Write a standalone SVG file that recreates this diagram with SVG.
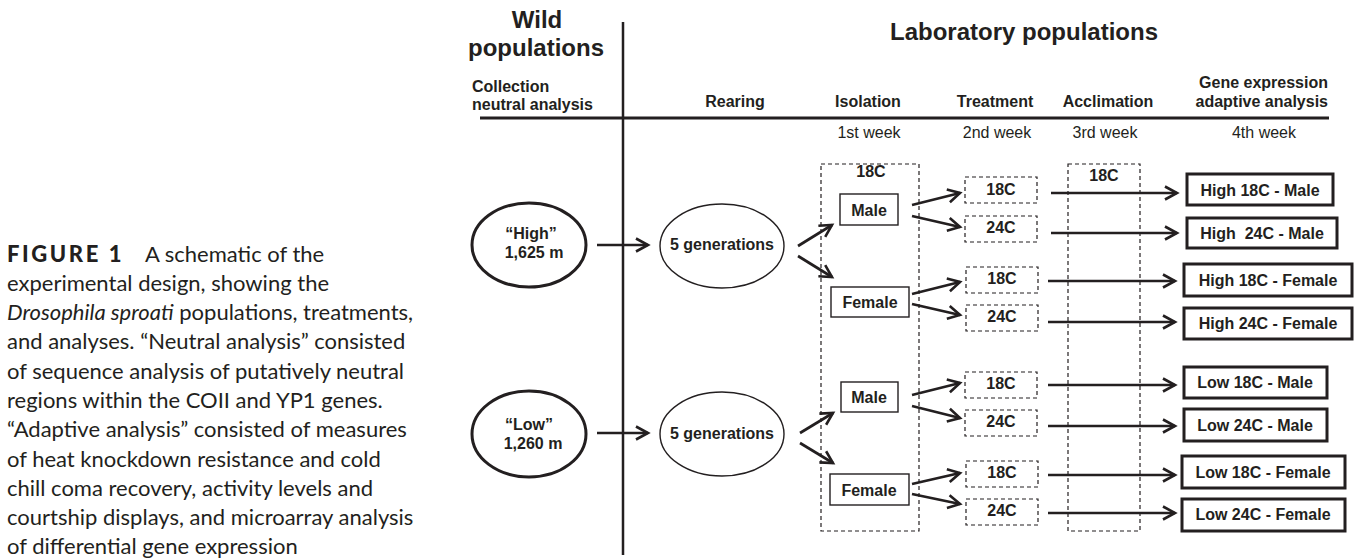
<svg xmlns="http://www.w3.org/2000/svg" width="1355" height="559" viewBox="0 0 1355 559">
<style>
text{font-family:"Liberation Sans",Arial,sans-serif;fill:#231f20}
.b{font-weight:bold;font-size:16px}
.h{font-weight:bold;font-size:24px}
.w{font-size:16px}
.m{text-anchor:middle}
.cap{font-family:Lato,"Noto Sans",sans-serif;font-size:22px;fill:#231f20}
.fig{font-family:Lato,"Noto Sans",sans-serif;font-size:22px;font-weight:900;letter-spacing:2.6px}
.rule{stroke:#231f20;fill:none}
.dash{fill:none;stroke:#231f20;stroke-width:1.2;stroke-dasharray:4 3}
.thin{fill:#fff;stroke:#231f20;stroke-width:1.4}
.thick{fill:#fff;stroke:#231f20;stroke-width:3}
.c{stroke:#231f20;stroke-width:2.7;fill:none;marker-end:url(#ah)}
.pre{white-space:pre}
</style>
<defs>
<marker id="ah" markerUnits="userSpaceOnUse" markerWidth="16" markerHeight="16" refX="12" refY="6.5" orient="auto" overflow="visible">
<path d="M0,0 L12,6.5 L0,13" fill="none" stroke="#231f20" stroke-width="2.6"/>
</marker>
</defs>

<g id="caption">
<text x="7" y="262"><tspan class="fig">FIGURE 1</tspan></text>
<text class="cap" x="145" y="262">A schematic of the</text>
<text class="cap" x="7" y="291">experimental design, showing the</text>
<text class="cap" x="7" y="320"><tspan font-style="italic">Drosophila sproati</tspan> populations, treatments,</text>
<text class="cap" x="7" y="349">and analyses. “Neutral analysis” consisted</text>
<text class="cap" x="7" y="379">of sequence analysis of putatively neutral</text>
<text class="cap" x="7" y="408">regions within the COII and YP1 genes.</text>
<text class="cap" x="7" y="437">“Adaptive analysis” consisted of measures</text>
<text class="cap" x="7" y="467">of heat knockdown resistance and cold</text>
<text class="cap" x="7" y="496">chill coma recovery, activity levels and</text>
<text class="cap" x="7" y="525">courtship displays, and microarray analysis</text>
<text class="cap" x="7" y="554">of differential gene expression</text>
</g>

<g id="header">
<text class="h m" x="537" y="28">Wild</text>
<text class="h m" x="536" y="56">populations</text>
<text class="h m" x="1024" y="40">Laboratory populations</text>
<text class="b" x="472" y="92">Collection</text>
<text class="b" x="472" y="110">neutral analysis</text>
<text class="b m" x="735" y="107">Rearing</text>
<text class="b m" x="868" y="107">Isolation</text>
<text class="b m" x="995" y="107">Treatment</text>
<text class="b m" x="1108" y="107">Acclimation</text>
<text class="b" x="1328" y="88" text-anchor="end">Gene expression</text>
<text class="b" x="1328" y="107" text-anchor="end">adaptive analysis</text>
<text class="w m" x="869" y="138">1st week</text>
<text class="w m" x="997" y="138">2nd week</text>
<text class="w m" x="1105" y="138">3rd week</text>
<text class="w m" x="1264" y="138">4th week</text>
<line class="rule" x1="480" y1="118" x2="1329" y2="118" stroke-width="3"/>
<line class="rule" x1="623" y1="22" x2="623" y2="555" stroke-width="2.5"/>
</g>

<g id="isolation-box"><rect class="dash" x="821" y="164" width="98" height="367"/><text class="b m" x="871" y="177">18C</text></g>
<g id="acclimation-box"><rect class="dash" x="1068" y="164" width="72" height="367"/><text class="b m" x="1104" y="181">18C</text></g>

<g id="wild-high"><ellipse class="thick" cx="529" cy="245" rx="57" ry="42"/><text class="b m" x="531" y="239">“High”</text><text class="b m" x="534" y="258">1,625 m</text></g>
<g id="wild-low"><ellipse class="thick" cx="529" cy="434" rx="57" ry="43"/><text class="b m" x="529" y="430">“Low”</text><text class="b m" x="533" y="449">1,260 m</text></g>
<g id="rear-high"><ellipse class="thin" cx="722" cy="246" rx="62" ry="42"/><text class="b m" x="722" y="250">5 generations</text></g>
<g id="rear-low"><ellipse class="thin" cx="722" cy="434" rx="62" ry="42"/><text class="b m" x="722" y="439">5 generations</text></g>

<g id="iso-high-male"><rect class="thin" x="840" y="194" width="58" height="31"/><text class="b m" x="869" y="216">Male</text></g>
<g id="iso-high-female"><rect class="thin" x="831" y="287" width="78" height="30"/><text class="b m" x="870" y="308">Female</text></g>
<g id="iso-low-male"><rect class="thin" x="841" y="382" width="57" height="30"/><text class="b m" x="869" y="403">Male</text></g>
<g id="iso-low-female"><rect class="thin" x="830" y="474" width="79" height="31"/><text class="b m" x="869" y="496">Female</text></g>

<g id="tr-hm18"><rect class="dash" x="965" y="177" width="72" height="26"/><text class="b m" x="1001" y="195">18C</text></g>
<g id="tr-hm24"><rect class="dash" x="965" y="216" width="72" height="26"/><text class="b m" x="1001" y="233">24C</text></g>
<g id="tr-hf18"><rect class="dash" x="966" y="267" width="72" height="26"/><text class="b m" x="1002" y="284">18C</text></g>
<g id="tr-hf24"><rect class="dash" x="966" y="305" width="72" height="26"/><text class="b m" x="1002" y="322">24C</text></g>
<g id="tr-lm18"><rect class="dash" x="965" y="372" width="72" height="26"/><text class="b m" x="1001" y="389">18C</text></g>
<g id="tr-lm24"><rect class="dash" x="965" y="410" width="72" height="26"/><text class="b m" x="1001" y="427">24C</text></g>
<g id="tr-lf18"><rect class="dash" x="966" y="461" width="72" height="26"/><text class="b m" x="1002" y="478">18C</text></g>
<g id="tr-lf24"><rect class="dash" x="966" y="499" width="72" height="26"/><text class="b m" x="1002" y="516">24C</text></g>

<g id="res-hm18"><rect class="thick" x="1187" y="174" width="146" height="31"/><text class="b m" x="1260" y="196">High 18C - Male</text></g>
<g id="res-hm24"><rect class="thick" x="1187" y="218" width="150" height="30"/><text class="b m pre" x="1262" y="239">High  24C - Male</text></g>
<g id="res-hf18"><rect class="thick" x="1184" y="264" width="168" height="32"/><text class="b m" x="1268" y="286">High 18C - Female</text></g>
<g id="res-hf24"><rect class="thick" x="1184" y="308" width="168" height="31"/><text class="b m" x="1268" y="329">High 24C - Female</text></g>
<g id="res-lm18"><rect class="thick" x="1184" y="367" width="143" height="31"/><text class="b m" x="1255" y="388">Low 18C - Male</text></g>
<g id="res-lm24"><rect class="thick" x="1184" y="409" width="143" height="32"/><text class="b m" x="1255" y="431">Low 24C - Male</text></g>
<g id="res-lf18"><rect class="thick" x="1182" y="456" width="163" height="32"/><text class="b m" x="1263" y="478">Low 18C - Female</text></g>
<g id="res-lf24"><rect class="thick" x="1182" y="499" width="163" height="32"/><text class="b m" x="1263" y="520">Low 24C - Female</text></g>

<g id="connectors">
<line class="c" x1="597" y1="245" x2="648" y2="245"/>
<line class="c" x1="597" y1="433" x2="648" y2="433"/>
<line class="c" x1="798" y1="246" x2="832" y2="225"/>
<line class="c" x1="798" y1="256" x2="832" y2="277"/>
<line class="c" x1="800" y1="433" x2="833" y2="413"/>
<line class="c" x1="800" y1="443" x2="833" y2="463"/>
<line class="c" x1="912" y1="205" x2="960" y2="193"/>
<line class="c" x1="912" y1="216" x2="960" y2="227"/>
<line class="c" x1="912" y1="294" x2="960" y2="282"/>
<line class="c" x1="912" y1="304" x2="960" y2="315"/>
<line class="c" x1="912" y1="395" x2="960" y2="383"/>
<line class="c" x1="912" y1="406" x2="960" y2="418"/>
<line class="c" x1="912" y1="484" x2="960" y2="473"/>
<line class="c" x1="912" y1="494" x2="960" y2="504"/>
<line class="c" x1="1051" y1="193" x2="1177" y2="193"/>
<line class="c" x1="1051" y1="233" x2="1177" y2="233"/>
<line class="c" x1="1048" y1="281" x2="1175" y2="281"/>
<line class="c" x1="1048" y1="322" x2="1175" y2="322"/>
<line class="c" x1="1048" y1="385" x2="1175" y2="385"/>
<line class="c" x1="1048" y1="426" x2="1175" y2="426"/>
<line class="c" x1="1048" y1="475" x2="1175" y2="475"/>
<line class="c" x1="1048" y1="513" x2="1175" y2="513"/>
</g>
</svg>
